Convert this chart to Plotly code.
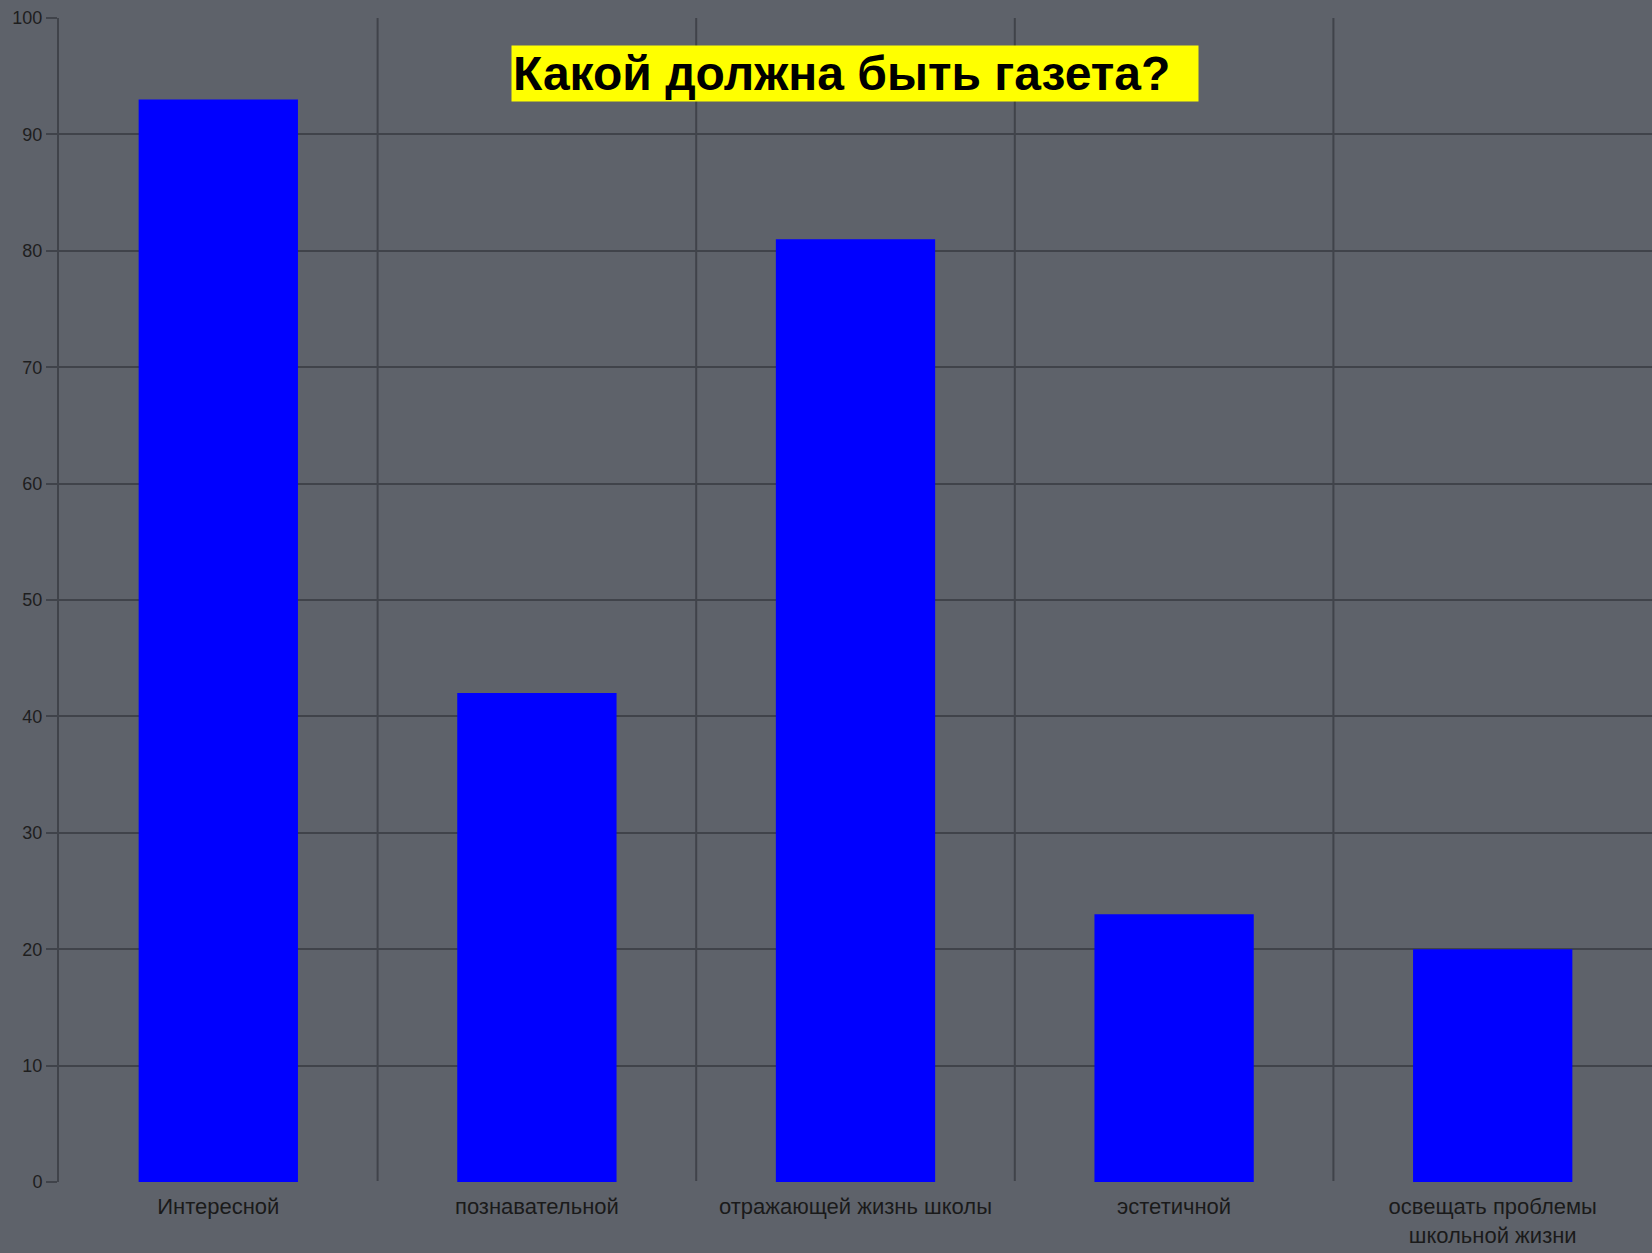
import plotly.graph_objects as go

categories = ["Интересной", "познавательной", "отражающей жизнь школы", "эстетичной",
              "освещать проблемы<br>школьной жизни"]
values = [93, 42, 81, 23, 20]
title_text = "Какой должна быть газета?"
y_ticks = list(range(0, 101, 10))

BG = "rgb(94,98,106)"
GRID = "rgb(64,67,74)"

fig = go.Figure(go.Bar(x=list(range(len(categories))), y=values, marker=dict(color="#0000ff", line=dict(width=0)),
                       width=0.5))

fig.update_layout(
    width=1652, height=1253,
    paper_bgcolor=BG, plot_bgcolor=BG,
    margin=dict(l=59, r=0, t=18, b=71),
    showlegend=False,
    font=dict(family="Liberation Sans, Arial, sans-serif", color="#1e1e1e"),
    xaxis=dict(
        range=[-0.5, 4.5], tickmode="array", tickvals=list(range(len(categories))), ticktext=categories,
        showgrid=False, ticks="", showline=False, zeroline=False,
        tickfont=dict(size=22, color="#1a1a1a"), ticklabelstandoff=9,
    ),
    yaxis=dict(
        range=[0, 100], tickvals=y_ticks, showgrid=True, gridcolor=GRID, gridwidth=2,
        ticks="outside", ticklen=11, tickcolor=GRID, tickwidth=2,
        showline=True, linecolor=GRID, linewidth=2,
        zeroline=True, zerolinecolor=BG, zerolinewidth=2,
        tickfont=dict(size=18, color="#1e1e1e"),
    ),
    annotations=[dict(
        text="<b>" + title_text + "&nbsp;&nbsp;</b>", xref="paper", yref="paper", x=0.4997, y=0.952,
        xanchor="center", yanchor="middle", showarrow=False,
        font=dict(size=48, color="black", family="Liberation Sans, Arial, sans-serif"),
        bgcolor="#ffff00", borderpad=1,
    )],
)

# vertical category-boundary lines
for i in range(1, len(categories)):
    fig.add_shape(type="line", xref="x", yref="y", x0=i - 0.5, x1=i - 0.5, y0=0, y1=100,
                  line=dict(color=GRID, width=2), layer="below")

fig.write_html("out.html", config={"displayModeBar": False},
               post_script="document.body.style.margin='0';document.body.style.overflow='hidden';")
